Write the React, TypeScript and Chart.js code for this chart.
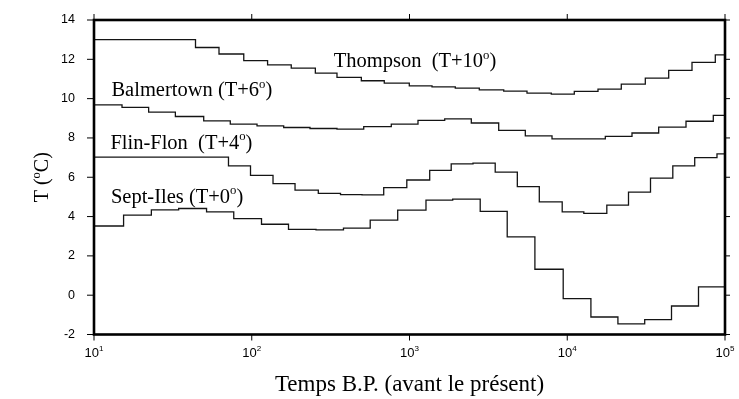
import { useEffect, useRef } from 'react';
import { Chart, registerables } from 'chart.js';

Chart.register(...registerables);

// ---- Data (ages in years B.P., temperature in °C incl. offsets) ----
const thompsonAges = [10, 44, 62, 89, 126, 178, 253, 347, 495, 692, 997, 1389, 1951, 2770, 3956, 5557, 7922, 11085, 15666, 22006, 31249, 43961, 61779, 86800, 100000];
const thompsonT = [13.0, 12.6, 12.27, 11.93, 11.72, 11.55, 11.3, 11.08, 10.91, 10.79, 10.65, 10.6, 10.53, 10.45, 10.38, 10.28, 10.23, 10.37, 10.48, 10.74, 11.04, 11.44, 11.84, 12.23, 12.23];

const balmertownAges = [10, 15.05, 22.2, 32.8, 49.6, 73.1, 108, 159.4, 234, 347, 512.6, 766.6, 1132, 1672, 2465, 3677, 5422, 8006, 11818, 17430, 25728, 37987, 56600, 84300, 100000];
const balmertownT = [9.68, 9.55, 9.31, 9.09, 8.87, 8.7, 8.61, 8.53, 8.48, 8.45, 8.58, 8.7, 8.89, 8.97, 8.76, 8.38, 8.1, 7.95, 7.95, 8.08, 8.25, 8.55, 8.85, 9.15, 9.15];

const flinFlonAges = [10, 71.2, 98.2, 136.4, 188.1, 264.2, 365.3, 499.9, 686.3, 961.4, 1343, 1838, 2527, 3494, 4825, 6650, 9290, 12735, 17816, 24449, 33707, 46682, 64270, 88960, 100000];
const flinFlonT = [7.02, 6.58, 6.1, 5.68, 5.34, 5.18, 5.12, 5.1, 5.47, 5.86, 6.35, 6.68, 6.72, 6.26, 5.52, 4.75, 4.24, 4.16, 4.58, 5.24, 5.96, 6.58, 7.0, 7.19, 7.19];

const septIlesAges = [10, 15.4, 23.1, 34.4, 51.7, 76.9, 115.3, 171, 255.5, 381.5, 563.5, 841.8, 1272, 1879, 2807, 4163, 6236, 9427, 14125, 20950, 30974, 45801, 67920, 100000];
const septIlesT = [3.52, 4.07, 4.34, 4.41, 4.24, 3.9, 3.61, 3.35, 3.32, 3.41, 3.82, 4.33, 4.84, 4.89, 4.26, 2.97, 1.32, -0.17, -1.11, -1.46, -1.24, -0.55, 0.42, 0.42];

const yTicks = [-2, 0, 2, 4, 6, 8, 10, 12, 14];
const xTickExponents = [1, 2, 3, 4, 5];

const seriesNames = ['Thompson  (T+10', 'Balmertown (T+6', 'Flin-Flon  (T+4', 'Sept-Iles (T+0'];
// label anchors in data coordinates (age, temperature of baseline)
const labelAnchors = [
  { age: 331, t: 11.61 },
  { age: 12.9, t: 10.11 },
  { age: 12.7, t: 7.46 },
  { age: 12.8, t: 4.71 },
];

const xTitle = 'Temps B.P. (avant le présent)';

type Part = { t: string; sup?: boolean };

function drawRich(ctx: CanvasRenderingContext2D, parts: Part[], x: number, y: number, size: number, family: string, align: 'left' | 'center') {
  const supSize = size * 0.62;
  let w = 0;
  for (const p of parts) {
    ctx.font = `${p.sup ? supSize : size}px ${family}`;
    w += ctx.measureText(p.t).width;
  }
  let cx = align === 'center' ? x - w / 2 : x;
  ctx.textAlign = 'left';
  ctx.textBaseline = 'alphabetic';
  for (const p of parts) {
    ctx.font = `${p.sup ? supSize : size}px ${family}`;
    ctx.fillText(p.t, cx, p.sup ? y - size * 0.4 : y);
    cx += ctx.measureText(p.t).width;
  }
}

const SERIF = '"Liberation Serif", "Times New Roman", serif';
const SANS = '"Liberation Sans", Arial, sans-serif';

const decorPlugin = {
  id: 'decor',
  afterDraw(chart: any) {
    const { ctx, chartArea: a, scales } = chart;
    const xs = scales.x;
    const ys = scales.y;
    ctx.save();
    ctx.fillStyle = '#000';
    ctx.strokeStyle = '#000';

    // frame
    ctx.lineWidth = 2.6;
    ctx.strokeRect(a.left, a.top, a.right - a.left, a.bottom - a.top);

    // ticks
    ctx.lineWidth = 1;
    const seg = (x1: number, y1: number, x2: number, y2: number) => {
      ctx.beginPath();
      ctx.moveTo(x1, y1);
      ctx.lineTo(x2, y2);
      ctx.stroke();
    };
    for (const e of xTickExponents) {
      const x = xs.getPixelForValue(Math.pow(10, e));
      seg(x, a.bottom, x, a.bottom + 6);
      seg(x, a.top, x, a.top - 6);
    }
    for (const v of yTicks) {
      const y = ys.getPixelForValue(v);
      seg(a.left - 7, y, a.left, y);
      seg(a.right, y, a.right + 5, y);
    }

    // y tick labels
    ctx.font = `12.5px ${SANS}`;
    ctx.textAlign = 'right';
    ctx.textBaseline = 'middle';
    for (const v of yTicks) {
      ctx.fillText(String(v), a.left - 19, ys.getPixelForValue(v));
    }

    // x tick labels 10^n
    for (const e of xTickExponents) {
      const x = xs.getPixelForValue(Math.pow(10, e));
      drawRich(ctx, [{ t: '10' }, { t: String(e), sup: true }], x, a.bottom + 22, 13, SANS, 'center');
    }

    // series labels
    seriesNames.forEach((name, i) => {
      const an = labelAnchors[i];
      const x = xs.getPixelForValue(an.age);
      const y = ys.getPixelForValue(an.t);
      drawRich(ctx, [{ t: name }, { t: 'o', sup: true }, { t: ')' }], x, y, 20.5, SERIF, 'left');
    });

    // x title
    drawRich(ctx, [{ t: xTitle }], (a.left + a.right) / 2, a.bottom + 56, 23, SERIF, 'center');

    // y title (rotated)
    ctx.save();
    ctx.translate(a.left - 46, (a.top + a.bottom) / 2);
    ctx.rotate(-Math.PI / 2);
    drawRich(ctx, [{ t: 'T (' }, { t: 'o', sup: true }, { t: 'C)' }], 0, 0, 20, SERIF, 'center');
    ctx.restore();

    ctx.restore();
  },
};

function mk(ages: number[], temps: number[]) {
  return ages.map((x, i) => ({ x, y: temps[i] }));
}

export default function App() {
  const ref = useRef<HTMLCanvasElement | null>(null);
  useEffect(() => {
    if (!ref.current) return;
    const common = {
      borderColor: '#141414',
      borderWidth: 1.3,
      pointRadius: 0,
      stepped: true,
      fill: false,
    };
    const chart = new Chart(ref.current, {
      type: 'line',
      data: {
        datasets: [
          { label: 'Thompson', data: mk(thompsonAges, thompsonT), ...common },
          { label: 'Balmertown', data: mk(balmertownAges, balmertownT), ...common },
          { label: 'Flin-Flon', data: mk(flinFlonAges, flinFlonT), ...common },
          { label: 'Sept-Iles', data: mk(septIlesAges, septIlesT), ...common },
        ],
      } as any,
      options: {
        animation: false,
        responsive: false,
        layout: { padding: { left: 0, right: 14, top: 20, bottom: 0 } },
        plugins: { legend: { display: false }, tooltip: { enabled: false } },
        scales: {
          x: {
            type: 'logarithmic',
            min: 10,
            max: 100000,
            grid: { display: false },
            border: { display: false },
            ticks: { display: false },
            afterFit: (s: any) => { s.height = 64.5; },
          },
          y: {
            type: 'linear',
            min: -2,
            max: 14,
            grid: { display: false },
            border: { display: false },
            ticks: { display: false },
            afterFit: (s: any) => { s.width = 94; },
          },
        },
      } as any,
      plugins: [decorPlugin],
    });
    return () => chart.destroy();
  }, []);
  return (
    <div style={{ position: 'absolute', left: 0, top: 0, width: 739, height: 399, background: '#fff' }}>
      <canvas ref={ref} width={739} height={399} style={{ display: 'block' }} />
    </div>
  );
}
